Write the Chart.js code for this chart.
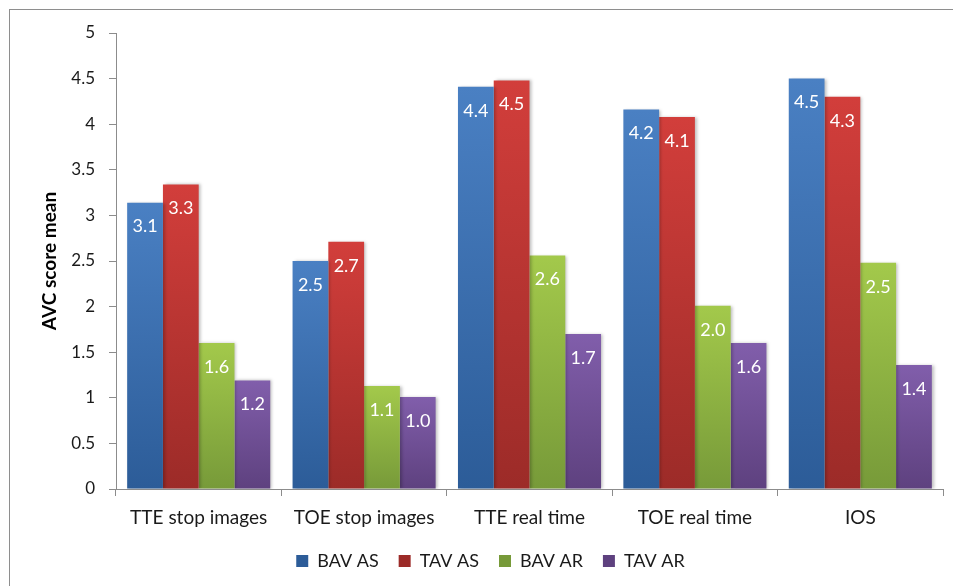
<!DOCTYPE html>
<html lang="en">
<head>
  <meta charset="UTF-8">
  <title>AVC score mean</title>
  <script src="https://cdn.jsdelivr.net/npm/chart.js"></script>
  <style>
    html, body { margin: 0; padding: 0; background: #ffffff; }
    body { width: 953px; height: 586px; position: relative; overflow: hidden; }
    .moldura { position: absolute; left: 9px; top: 9px; width: 1000px; height: 700px;
               border-left: 1px solid #8e8e8e; border-top: 1px solid #8e8e8e; }
    #grafico { position: absolute; left: 0; top: 0; }
  </style>
</head>
<body>
  <div class="moldura"></div>
  <canvas id="grafico" width="953" height="586"></canvas>

<script>
  // dados
  var categorias = ['TTE stop images', 'TOE stop images', 'TTE real time', 'TOE real time', 'IOS'];
  var series = ['BAV AS', 'TAV AS', 'BAV AR', 'TAV AR'];
  var bavAS = [3.14, 2.50, 4.41, 4.16, 4.50];
  var tavAS = [3.34, 2.71, 4.48, 4.08, 4.30];
  var bavAR = [1.60, 1.13, 2.56, 2.01, 2.48];
  var tavAR = [1.19, 1.01, 1.70, 1.60, 1.36];
  var ticksY = [0, 0.5, 1, 1.5, 2, 2.5, 3, 3.5, 4, 4.5, 5];

  var fonte = 'Lato, "Open Sans", sans-serif';

  // gradiente vertical por barra (claro em cima, escuro embaixo)
  function degrade(topo, base) {
    return function (ctx) {
      var chart = ctx.chart;
      if (!chart.chartArea || ctx.type !== 'data') return topo;
      var y = chart.scales.y;
      var g = chart.ctx.createLinearGradient(0, y.getPixelForValue(ctx.raw), 0, y.getPixelForValue(0));
      g.addColorStop(0, topo);
      g.addColorStop(1, base);
      return g;
    };
  }

  // sombra nas barras + rotulos brancos dentro das barras
  var rotulos = {
    id: 'rotulos',
    beforeDatasetsDraw: function (chart) {
      var ctx = chart.ctx;
      ctx.save();
      ctx.shadowColor = 'rgba(0,0,0,0.25)';
      ctx.shadowOffsetX = 2;
      ctx.shadowOffsetY = 0;
      ctx.shadowBlur = 3;
    },
    afterDatasetsDraw: function (chart) {
      var ctx = chart.ctx;
      ctx.restore();
      ctx.save();
      ctx.font = '18px ' + fonte;
      ctx.fillStyle = '#ffffff';
      ctx.textAlign = 'center';
      ctx.textBaseline = 'middle';
      chart.data.datasets.forEach(function (ds, i) {
        chart.getDatasetMeta(i).data.forEach(function (bar, j) {
          ctx.fillText(ds.data[j].toFixed(1), bar.x, bar.y + 24);
        });
      });
      ctx.restore();
    }
  };

  var dados = {
    labels: categorias,
    datasets: [
      { label: series[0], data: bavAS, backgroundColor: degrade('#4a80c3', '#2c5c98') },
      { label: series[1], data: tavAS, backgroundColor: degrade('#d23e3b', '#9c2b28') },
      { label: series[2], data: bavAR, backgroundColor: degrade('#a3c94b', '#779a39') },
      { label: series[3], data: tavAR, backgroundColor: degrade('#815eab', '#5e417f') }
    ]
  };

  var config = {
    type: 'bar',
    data: dados,
    plugins: [rotulos],
    options: {
      responsive: false,
      animation: false,
      categoryPercentage: 0.865,
      barPercentage: 1.0,
      borderWidth: 0,
      layout: { padding: { left: 38, right: 10, top: 33, bottom: 6 } },
      scales: {
        x: {
          grid: { display: true, drawOnChartArea: false, drawTicks: true, tickLength: 7, color: '#8c8c8c', offset: true },
          border: { color: '#8c8c8c' },
          ticks: { color: '#1a1a1a', font: { family: fonte, size: 19 }, padding: 10, maxRotation: 0 },
          afterFit: function (scale) { scale.height = 43; }
        },
        y: {
          min: 0,
          max: 5,
          grid: { display: true, drawOnChartArea: false, drawTicks: true, tickLength: 7, color: '#8c8c8c' },
          border: { color: '#8c8c8c' },
          afterBuildTicks: function (scale) {
            scale.ticks = ticksY.map(function (v) { return { value: v }; });
          },
          ticks: {
            color: '#1a1a1a',
            font: { family: fonte, size: 17 },
            padding: 14,
            callback: function (v) { return String(v); }
          },
          title: {
            display: true,
            text: 'AVC score mean',
            color: '#000000',
            font: { family: fonte, size: 19, weight: 'bold' },
            padding: { top: 0, bottom: 0 }
          },
          afterFit: function (scale) { scale.width = 78; }
        }
      },
      plugins: {
        legend: {
          position: 'bottom',
          labels: {
            color: '#1a1a1a',
            font: { family: fonte, size: 18 },
            boxWidth: 12,
            boxHeight: 12,
            padding: 20
          }
        },
        tooltip: { enabled: false }
      }
    }
  };

  new Chart(document.getElementById('grafico').getContext('2d'), config);
</script>
</body>
</html>
